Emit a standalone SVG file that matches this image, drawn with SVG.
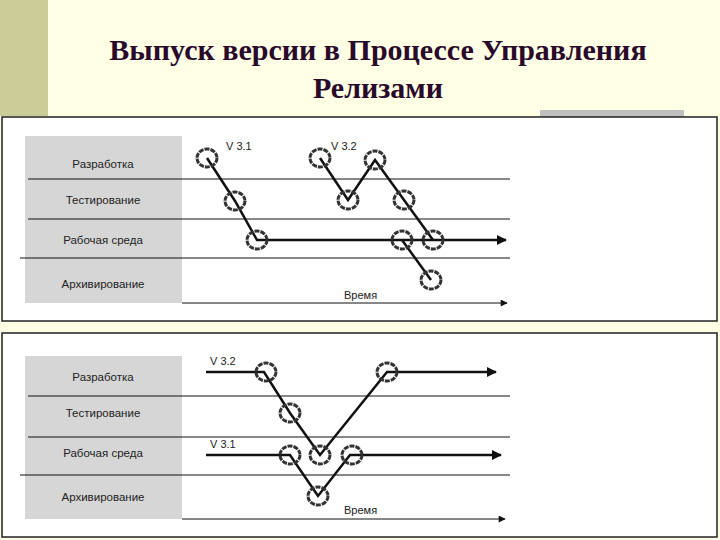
<svg xmlns="http://www.w3.org/2000/svg" width="720" height="540" viewBox="0 0 720 540">
<style>
.t{font-family:"Liberation Serif",serif;font-weight:bold;font-size:30px;fill:#2a0a2a;text-anchor:middle}
.lab{font-family:"Liberation Sans",sans-serif;font-size:11.5px;fill:#222;text-anchor:middle}
.v{font-family:"Liberation Sans",sans-serif;font-size:11px;fill:#222}
.ln{stroke:#111;stroke-width:1}
.p{stroke:#111;stroke-width:2.5;fill:none}
.c{fill:none;stroke:#333;stroke-width:3;stroke-dasharray:5 1}
.fr{fill:#fff;stroke:#222;stroke-width:1.5}
.g{fill:#d6d6d6}
</style>
<defs>
<marker id="a" viewBox="0 0 10 10" refX="9" refY="5" markerWidth="5" markerHeight="4" orient="auto" markerUnits="strokeWidth"><path d="M0,0 L10,5 L0,10z" fill="#111"/></marker>
<marker id="s" viewBox="0 0 10 10" refX="9" refY="5" markerWidth="10" markerHeight="7" orient="auto" markerUnits="strokeWidth"><path d="M0,0 L10,5 L0,10z" fill="#111"/></marker>
</defs>
<rect width="720" height="540" fill="#ffffe6"/>
<rect width="48" height="116" fill="#cccc99"/>
<rect x="540" y="110" width="144" height="7" fill="#c0c0c0"/>
<g id="title"><text class="t" x="378" y="60">Выпуск версии в Процессе Управления</text><text class="t" x="378" y="98">Релизами</text></g>

<g id="panel1">
<rect class="fr" x="2" y="117" width="715" height="204"/>
<rect class="g" x="25" y="136" width="157" height="167"/>
<line class="ln" x1="28" y1="179" x2="510" y2="179"/>
<line class="ln" x1="28" y1="219" x2="510" y2="219"/>
<line class="ln" x1="20" y1="258" x2="510" y2="258"/>
<text class="lab" x="103" y="168">Разработка</text>
<text class="lab" x="103" y="204">Тестирование</text>
<text class="lab" x="103" y="244">Рабочая среда</text>
<text class="lab" x="103" y="288">Архивирование</text>
<text class="v" x="226" y="150">V 3.1</text>
<text class="v" x="331" y="150">V 3.2</text>
<text class="v" x="344" y="299">Время</text>
</g>
<g id="conn1">
<line class="ln" x1="182" y1="303" x2="507" y2="303" marker-end="url(#s)"/>
<polyline class="p" points="207,158 235,201 257,240 506,240" marker-end="url(#a)"/>
<polyline class="p" points="320,158 348,200 375,160 404,200 433,240"/>
<line class="p" x1="402" y1="240" x2="431" y2="280"/>
</g>
<g id="nodes1">
<ellipse class="c" cx="207" cy="158" rx="10" ry="9"/>
<ellipse class="c" cx="235" cy="201" rx="10" ry="9"/>
<ellipse class="c" cx="257" cy="240" rx="10" ry="9"/>
<ellipse class="c" cx="320" cy="158" rx="10" ry="9"/>
<ellipse class="c" cx="348" cy="200" rx="10" ry="9"/>
<ellipse class="c" cx="375" cy="160" rx="10" ry="9"/>
<ellipse class="c" cx="404" cy="200" rx="10" ry="9"/>
<ellipse class="c" cx="433" cy="240" rx="10" ry="9"/>
<ellipse class="c" cx="402" cy="240" rx="10" ry="9"/>
<ellipse class="c" cx="431" cy="280" rx="10" ry="9"/>
</g>

<g id="panel2">
<rect class="fr" x="2" y="333" width="715" height="204"/>
<rect class="g" x="25" y="356" width="157" height="163"/>
<line class="ln" x1="28" y1="396" x2="510" y2="396"/>
<line class="ln" x1="28" y1="437" x2="510" y2="437"/>
<line class="ln" x1="20" y1="475" x2="510" y2="475"/>
<text class="lab" x="103" y="381">Разработка</text>
<text class="lab" x="103" y="417">Тестирование</text>
<text class="lab" x="103" y="457">Рабочая среда</text>
<text class="lab" x="103" y="501">Архивирование</text>
<text class="v" x="210" y="365">V 3.2</text>
<text class="v" x="210" y="448">V 3.1</text>
<text class="v" x="344" y="514">Время</text>
</g>
<g id="conn2">
<line class="ln" x1="182" y1="519" x2="505" y2="519" marker-end="url(#s)"/>
<polyline class="p" points="206,372 264,372 290,413 320,455 387,372 496,372" marker-end="url(#a)"/>
<polyline class="p" points="206,455 290,455 318,496 350,455 501,455" marker-end="url(#a)"/>
</g>
<g id="nodes2">
<ellipse class="c" cx="266" cy="372" rx="10" ry="9"/>
<ellipse class="c" cx="290" cy="413" rx="10" ry="9"/>
<ellipse class="c" cx="320" cy="455" rx="10" ry="9"/>
<ellipse class="c" cx="387" cy="372" rx="10" ry="9"/>
<ellipse class="c" cx="290" cy="455" rx="10" ry="9"/>
<ellipse class="c" cx="352" cy="455" rx="10" ry="9"/>
<ellipse class="c" cx="318" cy="496" rx="10" ry="9"/>
</g>
</svg>
